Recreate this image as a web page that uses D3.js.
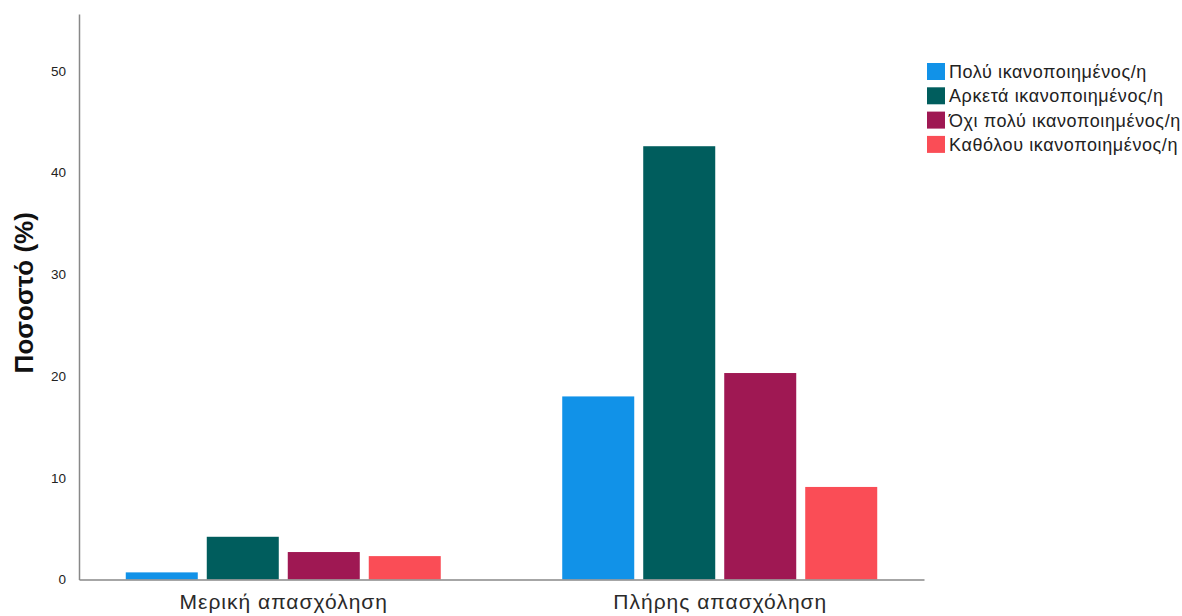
<!DOCTYPE html>
<html><head><meta charset="utf-8">
<script src="https://cdn.jsdelivr.net/npm/d3@7"></script>
<style>body{margin:0;background:#fff;} svg{display:block;}</style>
</head><body><svg id="c" width="1182" height="616"></svg>
<script>
const categories = ["Μερική απασχόληση", "Πλήρης απασχόληση"];
const seriesNames = ["Πολύ ικανοποιημένος/η", "Αρκετά ικανοποιημένος/η", "Όχι πολύ ικανοποιημένος/η", "Καθόλου ικανοποιημένος/η"];
const seriesColors = ["#1192e8", "#005d5d", "#9f1853", "#fa4d56"];
const valuesPart = [0.7, 4.2, 2.7, 2.3];
const valuesFull = [18.0, 42.6, 20.3, 9.1];
const yTicks = [0, 10, 20, 30, 40, 50];
const yLabel = "Ποσοστό (%)";

const values = [valuesPart, valuesFull];
const svg = d3.select("#c");
const pLeft = 79, pRight = 924, pTop = 14, pBottom = 579.5;

const y = d3.scaleLinear().domain([0, 55.6]).range([pBottom, pTop]);
const x = d3.scalePoint().domain(categories).range([pLeft, pRight]).padding(0.468);
const xs = d3.scaleBand().domain(seriesNames).range([-157.5, 157.5]).paddingInner(0.111);

const font = "'Liberation Sans', Arial, sans-serif";

// bars
categories.forEach((c, ci) => {
  svg.append("g").selectAll("rect").data(seriesNames).join("rect")
    .attr("x", s => x(c) + xs(s))
    .attr("width", xs.bandwidth())
    .attr("y", (s, i) => y(values[ci][i]))
    .attr("height", (s, i) => pBottom - y(values[ci][i]))
    .attr("fill", (s, i) => seriesColors[i]);
});

// y axis
const ya = svg.append("g").attr("transform", `translate(${pLeft},0)`)
  .call(d3.axisLeft(y).tickValues(yTicks).tickSize(0).tickPadding(13).tickFormat(d3.format("d")));
ya.select(".domain").attr("stroke", "#888").attr("stroke-width", 1.5);
ya.selectAll("text").attr("font-family", font).attr("font-size", 13.5).attr("fill", "#222");

// x axis
const xa = svg.append("g").attr("transform", `translate(0,${pBottom})`)
  .call(d3.axisBottom(x).tickSize(0).tickPadding(15));
xa.select(".domain").attr("stroke", "#888").attr("stroke-width", 1.5);
xa.selectAll("text").attr("font-family", font).attr("font-size", 21)
  .attr("letter-spacing", 1).attr("fill", "#2a2a2a");

// y label
svg.append("text")
  .attr("transform", `translate(33,${(pTop + pBottom) / 2 - 4}) rotate(-90)`)
  .attr("text-anchor", "middle")
  .attr("font-family", font).attr("font-weight", "bold").attr("font-size", 26).attr("fill", "#111")
  .text(yLabel);

// legend
const lg = svg.append("g").attr("transform", "translate(927,63)");
seriesNames.forEach((s, i) => {
  const row = lg.append("g").attr("transform", `translate(0,${i * 24.3})`);
  row.append("rect").attr("width", 18).attr("height", 17).attr("fill", seriesColors[i]);
  row.append("text").attr("x", 22).attr("y", 15)
    .attr("font-family", font).attr("font-size", 18).attr("letter-spacing", 0.6)
    .attr("fill", "#222").text(s);
});
</script></body></html>
